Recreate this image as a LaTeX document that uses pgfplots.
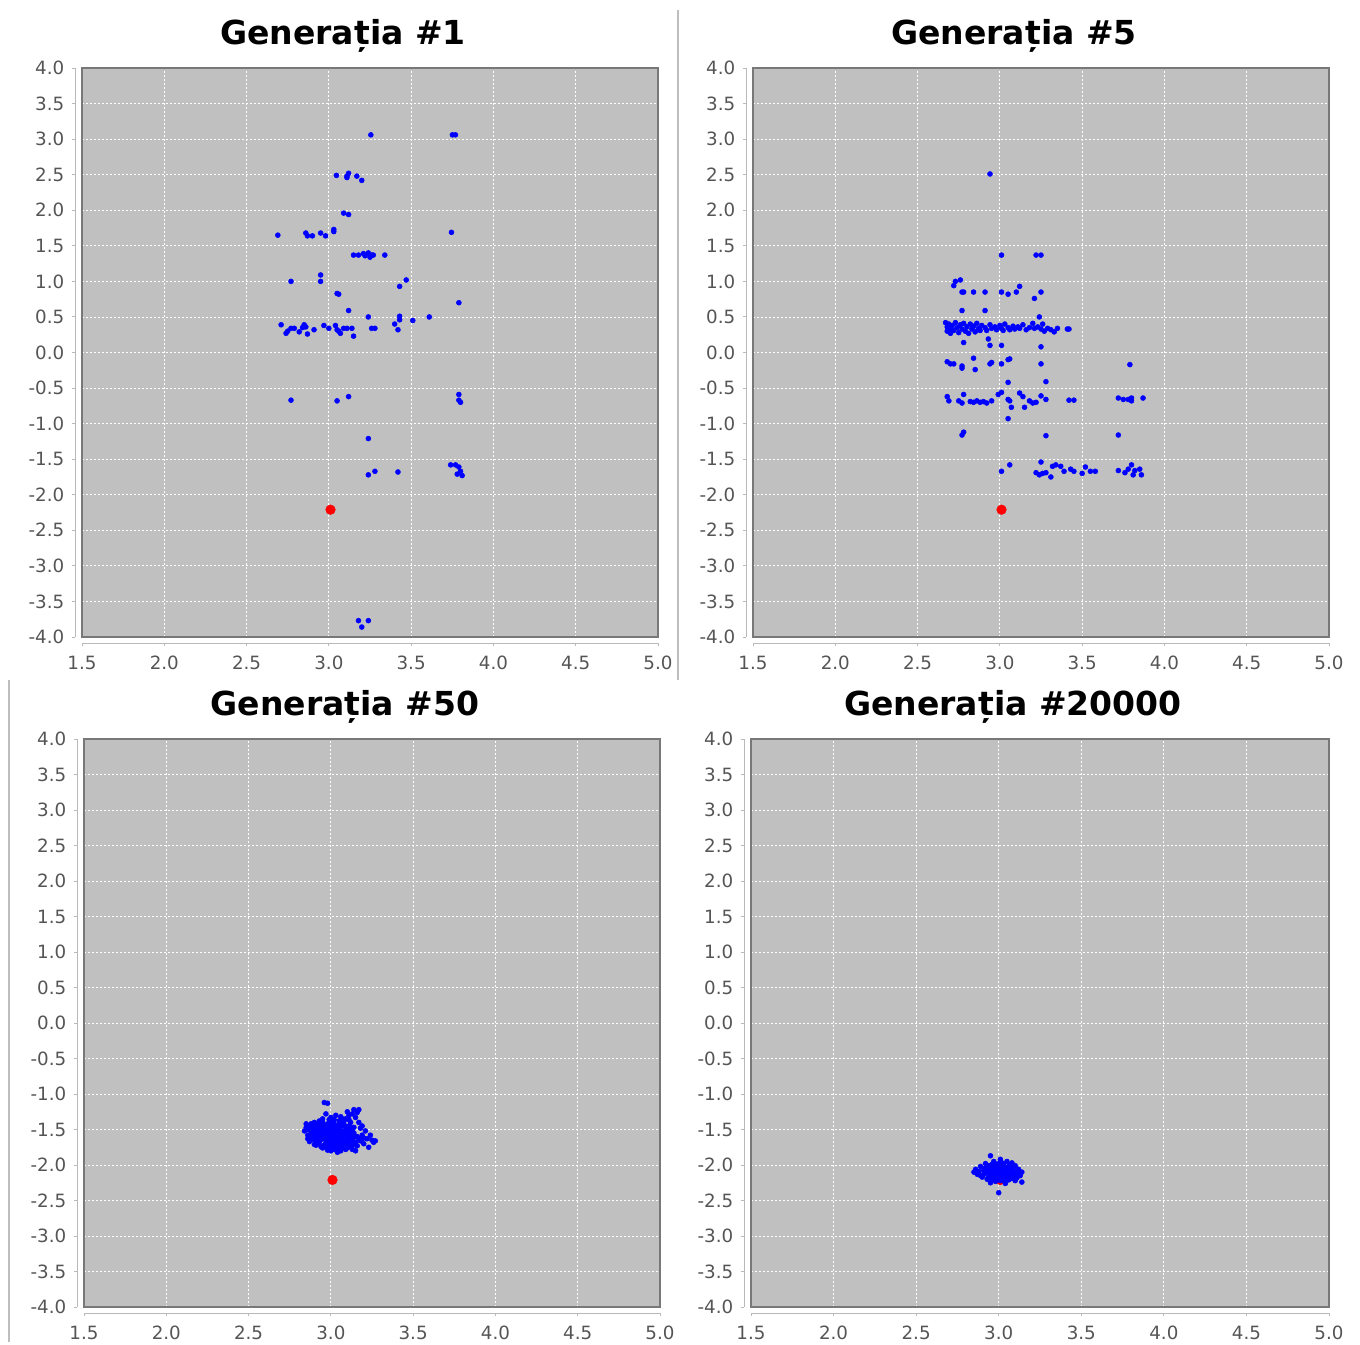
\documentclass[border=0pt]{standalone}
\usepackage{pgfplots}
\pgfplotsset{compat=1.18}
\usepackage{fontspec}
\setmainfont{DejaVu Sans}
\definecolor{bggray}{RGB}{192,192,192}
\definecolor{framegray}{RGB}{120,120,120}
\definecolor{axgray}{RGB}{185,185,185}
\definecolor{tickgray}{RGB}{85,85,85}
\definecolor{sepgray}{RGB}{190,190,190}
\definecolor{ptblue}{RGB}{0,0,255}
\definecolor{ptred}{RGB}{255,0,0}

\pgfplotstableread{
x y
3.255 3.06
3.751 3.06
3.769 3.06
3.046 2.49
3.11 2.48
3.12 2.52
3.11 2.46
3.17 2.48
3.20 2.42
3.09 1.96
3.12 1.94
2.69 1.65
2.86 1.68
2.87 1.64
2.90 1.64
2.95 1.68
2.98 1.64
3.03 1.70
3.03 1.73
3.745 1.69
3.15 1.37
3.18 1.37
3.21 1.39
3.22 1.36
3.24 1.40
3.25 1.34
3.26 1.37
3.27 1.37
3.34 1.37
2.77 1.00
2.95 1.09
2.95 1.00
3.05 0.83
3.06 0.82
3.47 1.02
3.43 0.93
3.79 0.70
3.12 0.59
3.24 0.50
3.61 0.50
3.51 0.45
3.43 0.51
3.43 0.46
3.42 0.32
3.40 0.40
2.71 0.39
2.74 0.27
2.75 0.30
2.77 0.34
2.79 0.34
2.82 0.29
2.84 0.35
2.85 0.39
2.86 0.36
2.87 0.26
2.91 0.32
2.97 0.38
3.00 0.34
3.04 0.38
3.05 0.32
3.06 0.30
3.07 0.27
3.09 0.34
3.11 0.34
3.14 0.34
3.15 0.23
3.26 0.34
3.28 0.34
2.77 -0.67
3.05 -0.68
3.12 -0.62
3.79 -0.59
3.79 -0.67
3.80 -0.70
3.24 -1.21
3.24 -1.72
3.28 -1.67
3.42 -1.68
3.74 -1.58
3.77 -1.58
3.79 -1.61
3.80 -1.67
3.81 -1.73
3.78 -1.71
3.18 -3.77
3.24 -3.77
3.20 -3.86
}\genone

\pgfplotstableread{
x y
2.94 2.51
3.01 1.37
3.22 1.37
3.25 1.37
2.73 1.00
2.76 1.02
2.72 0.94
2.77 0.85
2.78 0.85
2.84 0.85
2.91 0.85
3.01 0.85
3.05 0.82
3.10 0.85
3.12 0.93
3.21 0.76
3.25 0.85
2.77 0.59
2.91 0.59
3.24 0.50
2.67 0.42
2.68 0.36
2.68 0.30
2.69 0.40
2.70 0.33
2.70 0.27
2.71 0.38
2.72 0.31
2.73 0.42
2.74 0.35
2.75 0.28
2.76 0.39
2.77 0.33
2.78 0.41
2.79 0.30
2.80 0.36
2.81 0.27
2.82 0.40
2.83 0.33
2.84 0.37
2.85 0.29
2.86 0.41
2.87 0.34
2.88 0.31
2.89 0.38
2.91 0.35
2.92 0.31
2.94 0.39
2.95 0.34
2.97 0.36
2.98 0.32
3.00 0.38
3.01 0.34
3.02 0.31
3.03 0.40
3.05 0.35
3.06 0.32
3.08 0.37
3.09 0.33
3.11 0.36
3.12 0.34
3.14 0.39
3.16 0.32
3.18 0.35
3.20 0.41
3.21 0.34
3.23 0.36
3.25 0.33
3.26 0.40
3.27 0.30
3.29 0.34
3.31 0.32
3.33 0.29
3.35 0.34
3.41 0.33
3.42 0.33
2.78 0.14
2.93 0.19
2.94 0.10
3.01 0.10
3.25 0.08
2.68 -0.13
2.70 -0.16
2.72 -0.16
2.77 -0.19
2.77 -0.22
2.84 -0.08
2.85 -0.24
2.94 -0.16
2.95 -0.14
3.01 -0.16
3.05 -0.10
3.06 -0.09
3.25 -0.16
3.79 -0.17
3.05 -0.42
3.28 -0.41
2.68 -0.62
2.69 -0.68
2.75 -0.68
2.77 -0.71
2.78 -0.59
2.82 -0.69
2.84 -0.70
2.86 -0.68
2.88 -0.70
2.90 -0.69
2.92 -0.71
2.95 -0.68
2.99 -0.59
3.01 -0.56
3.05 -0.66
3.06 -0.68
3.07 -0.77
3.12 -0.57
3.14 -0.62
3.15 -0.77
3.18 -0.68
3.20 -0.71
3.22 -0.70
3.25 -0.61
3.28 -0.66
3.42 -0.67
3.45 -0.67
3.72 -0.64
3.75 -0.66
3.78 -0.66
3.80 -0.68
3.80 -0.64
3.87 -0.64
3.05 -0.93
2.77 -1.16
2.78 -1.12
3.28 -1.17
3.72 -1.16
3.01 -1.67
3.06 -1.58
3.25 -1.54
3.22 -1.69
3.24 -1.72
3.26 -1.70
3.28 -1.69
3.31 -1.75
3.32 -1.60
3.34 -1.58
3.37 -1.60
3.39 -1.67
3.43 -1.64
3.45 -1.67
3.50 -1.70
3.52 -1.61
3.55 -1.67
3.58 -1.67
3.72 -1.66
3.76 -1.69
3.78 -1.64
3.80 -1.58
3.81 -1.72
3.82 -1.66
3.85 -1.64
3.86 -1.72
}\genfive

\pgfplotstableread{
x y
2.96 -1.12
2.98 -1.13
2.93 -1.38
2.90 -1.40
2.87 -1.45
2.85 -1.42
2.84 -1.52
2.86 -1.58
2.88 -1.62
2.89 -1.55
2.91 -1.50
2.92 -1.66
2.90 -1.71
2.94 -1.74
2.93 -1.60
2.95 -1.45
2.96 -1.52
2.97 -1.58
2.95 -1.63
2.97 -1.69
2.98 -1.76
2.99 -1.48
3.00 -1.55
3.01 -1.62
3.00 -1.70
3.02 -1.42
3.03 -1.50
3.04 -1.58
3.03 -1.66
3.05 -1.73
3.06 -1.80
3.02 -1.78
3.07 -1.45
3.08 -1.53
3.06 -1.61
3.09 -1.68
3.10 -1.76
3.08 -1.38
3.11 -1.30
3.12 -1.47
3.11 -1.57
3.13 -1.64
3.12 -1.72
3.15 -1.80
3.14 -1.55
3.16 -1.60
3.17 -1.40
3.18 -1.48
3.15 -1.33
3.14 -1.22
3.17 -1.22
3.10 -1.25
3.06 -1.32
3.03 -1.30
2.99 -1.36
2.97 -1.28
3.01 -1.40
3.05 -1.38
3.04 -1.45
2.98 -1.42
2.94 -1.53
2.92 -1.57
3.19 -1.58
3.20 -1.70
3.22 -1.63
3.25 -1.65
3.23 -1.75
3.21 -1.52
3.18 -1.66
2.87 -1.67
2.86 -1.50
2.89 -1.47
2.91 -1.44
3.07 -1.60
3.08 -1.70
3.10 -1.62
3.05 -1.65
3.02 -1.70
2.99 -1.62
2.96 -1.72
2.95 -1.58
2.97 -1.50
3.00 -1.45
3.03 -1.58
3.06 -1.52
3.09 -1.47
3.12 -1.40
3.13 -1.52
3.11 -1.66
3.09 -1.78
3.04 -1.82
3.00 -1.80
2.98 -1.66
3.01 -1.52
3.04 -1.62
3.07 -1.68
3.10 -1.56
3.15 -1.68
3.16 -1.73
3.13 -1.78
2.93 -1.48
2.90 -1.60
2.88 -1.42
2.93 -1.68
3.00 -1.60
3.02 -1.65
3.05 -1.56
3.08 -1.63
3.03 -1.74
3.06 -1.42
3.09 -1.35
3.13 -1.28
3.16 -1.26
3.00 -1.33
2.95 -1.40
2.99 -1.72
3.01 -1.47
2.89 -1.50
2.91 -1.53
2.92 -1.61
2.94 -1.57
2.94 -1.64
2.96 -1.55
2.96 -1.61
2.97 -1.65
2.98 -1.54
2.98 -1.59
2.99 -1.56
2.99 -1.67
3.00 -1.50
3.00 -1.64
3.01 -1.57
3.01 -1.68
3.02 -1.53
3.02 -1.60
3.03 -1.55
3.03 -1.63
3.04 -1.52
3.04 -1.67
3.05 -1.49
3.05 -1.60
3.06 -1.56
3.06 -1.64
3.07 -1.53
3.07 -1.72
3.08 -1.58
3.08 -1.66
3.09 -1.55
3.09 -1.62
3.10 -1.50
3.10 -1.69
3.11 -1.53
3.11 -1.61
3.12 -1.58
3.12 -1.65
3.13 -1.60
3.14 -1.70
2.93 -1.43
2.96 -1.47
2.99 -1.44
3.02 -1.47
3.05 -1.44
3.08 -1.43
3.11 -1.45
3.14 -1.47
3.15 -1.60
3.17 -1.63
2.91 -1.72
2.95 -1.76
2.98 -1.79
3.01 -1.75
3.04 -1.77
3.07 -1.76
3.10 -1.72
3.13 -1.73
2.90 -1.65
2.88 -1.55
2.86 -1.63
2.97 -1.62
3.00 -1.58
3.03 -1.61
3.06 -1.67
3.09 -1.59
2.95 -1.35
3.02 -1.36
3.07 -1.35
3.11 -1.36
2.85 -1.47
3.19 -1.45
3.20 -1.62
3.24 -1.58
3.26 -1.68
3.27 -1.66
}\genfifty

\pgfplotstableread{
x y
2.95 -1.87
3.01 -1.92
2.97 -1.95
3.05 -1.95
3.08 -1.97
2.92 -1.98
3.00 -1.98
3.03 -2.00
2.89 -2.02
2.94 -2.01
2.98 -2.02
3.06 -2.02
3.10 -2.01
2.86 -2.06
2.91 -2.05
2.96 -2.05
3.01 -2.05
3.04 -2.06
3.08 -2.05
3.12 -2.06
2.85 -2.10
2.88 -2.09
2.93 -2.09
2.97 -2.08
3.00 -2.09
3.03 -2.10
3.07 -2.09
3.11 -2.10
3.14 -2.10
2.87 -2.13
2.91 -2.13
2.95 -2.12
2.99 -2.13
3.02 -2.12
3.05 -2.13
3.09 -2.14
3.13 -2.15
2.90 -2.17
2.94 -2.16
2.98 -2.17
3.01 -2.16
3.04 -2.18
3.07 -2.17
3.11 -2.18
2.93 -2.20
2.96 -2.21
3.00 -2.20
3.03 -2.22
3.06 -2.21
2.95 -2.25
3.04 -2.26
3.10 -2.22
3.14 -2.24
3.00 -2.39
2.98 -1.99
3.06 -2.07
2.92 -2.11
3.02 -2.14
3.08 -2.12
2.96 -2.15
2.89 -2.15
3.12 -2.12
3.01 -2.02
2.94 -2.06
3.05 -2.16
2.93 -2.03
2.95 -2.08
2.97 -2.11
2.97 -2.03
2.99 -2.06
2.99 -2.10
3.00 -2.04
3.00 -2.13
3.01 -2.08
3.02 -2.06
3.02 -2.18
3.03 -2.04
3.04 -2.09
3.04 -2.13
3.05 -2.04
3.05 -2.10
3.06 -2.14
3.07 -2.05
3.07 -2.12
3.08 -2.09
3.09 -2.07
3.09 -2.17
3.10 -2.13
2.96 -1.99
3.02 -1.97
3.07 -2.00
2.91 -2.08
2.96 -2.18
2.99 -2.19
3.05 -2.19
3.08 -2.19
2.98 -2.23
3.01 -2.22
}\gentwenty

\pgfplotstableread{
x y
3.01 -2.21
}\target

\newcommand\decor{%
  \draw[framegray,line width=0.35mm] (rel axis cs:0,0) rectangle (rel axis cs:1,1);
  \draw[axgray,line width=0.25mm] ([xshift=-1.75mm]rel axis cs:0,0) -- ([xshift=-1.75mm]rel axis cs:0,1);
  \draw[axgray,line width=0.25mm] ([yshift=-1.6mm]rel axis cs:0,0) -- ([yshift=-1.6mm]rel axis cs:1,0);
  \pgfplotsinvokeforeach{-4,-3.5,-3,-2.5,-2,-1.5,-1,-0.5,0,0.5,1,1.5,2,2.5,3,3.5,4}{%
    \draw[axgray,line width=0.25mm] ([xshift=-1.75mm]axis cs:1.5,##1) -- ([xshift=-2.5mm]axis cs:1.5,##1);}
  \pgfplotsinvokeforeach{1.5,2,2.5,3,3.5,4,4.5,5}{%
    \draw[axgray,line width=0.25mm] ([yshift=-1.6mm]axis cs:##1,-4) -- ([yshift=-2.35mm]axis cs:##1,-4);}
}

\pgfplotsset{panel/.style={
  scale only axis, anchor=north west, clip=false,
  xmin=1.5, xmax=5, ymin=-4, ymax=4,
  xtick={1.5,2,2.5,3,3.5,4,4.5,5},
  ytick={-4,-3.5,-3,-2.5,-2,-1.5,-1,-0.5,0,0.5,1,1.5,2,2.5,3,3.5,4},
  xticklabel={\pgfmathprintnumber[fixed,fixed zerofill,precision=1]{\tick}},
  yticklabel={\pgfmathprintnumber[fixed,fixed zerofill,precision=1]{\tick}},
  /pgf/number format/assume math mode=true,
  axis background/.style={fill=bggray},
  grid=major,
  major grid style={white, dash pattern=on 0.5mm off 0.5mm, line width=0.2mm},
  axis line style={draw=none},
  major tick length=0pt,
  tick label style={font=\fontsize{13}{15}\selectfont, text=tickgray},
  yticklabel style={xshift=-3.2mm},
  xticklabel style={yshift=-3.5mm},
}}
\pgfplotsset{blue pts/.style={only marks, mark=*, mark size=1.75pt, color=ptblue, mark options={draw=ptblue, fill=ptblue}},
  red pt/.style={only marks, mark=*, mark size=3.4pt, color=ptred, mark options={draw=ptred, fill=ptred}}}

\begin{document}
\begin{tikzpicture}
\path (0,0) rectangle (340mm,-335.5mm);
\draw[sepgray,line width=0.5mm] (169.5mm,-2.5mm) -- (169.5mm,-170mm);
\draw[sepgray,line width=0.5mm] (2.25mm,-170mm) -- (2.25mm,-335.5mm);
\tikzset{ttl/.style={anchor=base, font=\fontsize{23.5}{28}\selectfont\bfseries}}
\node[ttl] at (85.75mm,-11mm) {Generația \#1};
\node[ttl] at (253.5mm,-11mm) {Generația \#5};
\node[ttl] at (86.25mm,-178.75mm) {Generația \#50};
\node[ttl] at (253.25mm,-178.75mm) {Generația \#20000};

\begin{axis}[panel, at={(20.5mm,-17mm)}, width=144mm, height=142.25mm]
\addplot[red pt] table {\target};
\addplot[blue pts] table {\genone};
\decor
\end{axis}

\begin{axis}[panel, at={(188.25mm,-17mm)}, width=144mm, height=142.25mm]
\addplot[red pt] table {\target};
\addplot[blue pts] table {\genfive};
\decor
\end{axis}

\begin{axis}[panel, at={(21mm,-184.75mm)}, width=144mm, height=142mm]
\addplot[red pt] table {\target};
\addplot[blue pts] table {\genfifty};
\decor
\end{axis}

\begin{axis}[panel, at={(187.75mm,-184.75mm)}, width=144.5mm, height=142mm]
\addplot[red pt] table {\target};
\addplot[blue pts] table {\gentwenty};
\decor
\end{axis}
\end{tikzpicture}
\end{document}
